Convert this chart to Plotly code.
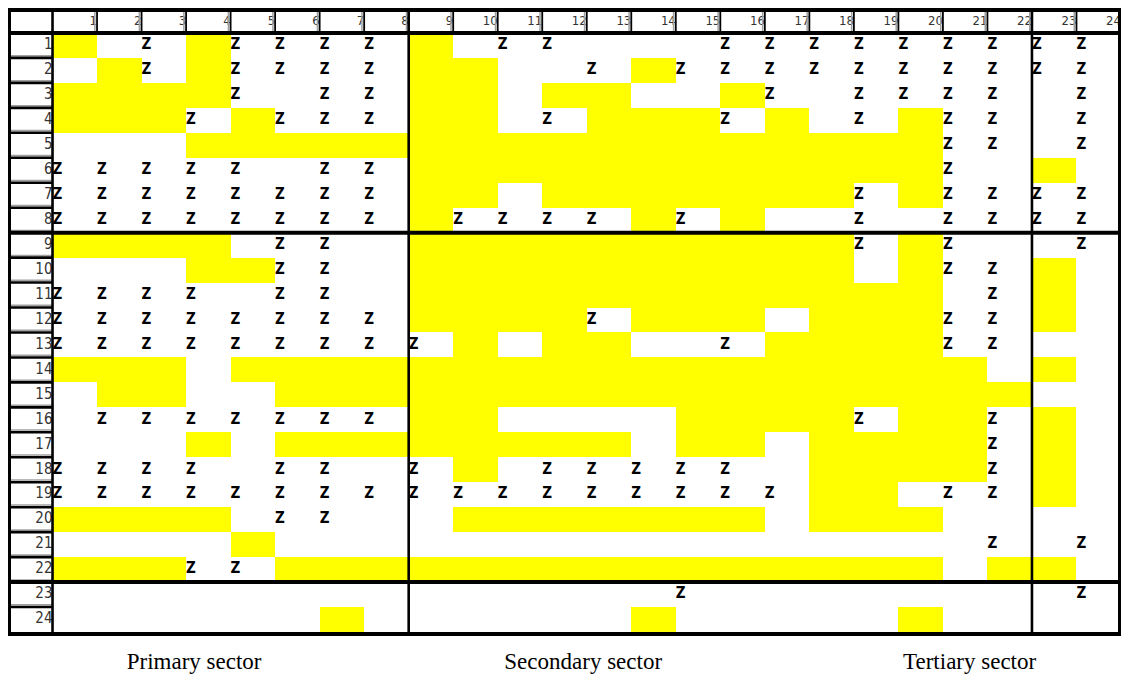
import numpy as np
import plotly.graph_objects as go

# ---------------- data ----------------
n_rows = 24
n_cols = 24
col_labels = [str(i) for i in range(1, n_cols + 1)]
row_labels = [str(i) for i in range(1, n_rows + 1)]

# yellow (shaded) cells: row -> list of columns
yellow_cells = {
    1: [1, 4, 9],
    2: [2, 4, 9, 10, 14],
    3: [1, 2, 3, 4, 9, 10, 12, 13, 16],
    4: [1, 2, 3, 5, 9, 10, 13, 14, 15, 17, 20],
    5: list(range(4, 21)),
    6: list(range(9, 21)) + [23],
    7: [9, 10, 12, 13, 14, 15, 16, 17, 18, 20],
    8: [9, 14, 16],
    9: [1, 2, 3, 4] + list(range(9, 19)) + [20],
    10: [4, 5] + list(range(9, 19)) + [20, 23],
    11: list(range(9, 21)) + [23],
    12: [9, 10, 11, 12, 14, 15, 16, 18, 19, 20, 23],
    13: [10, 12, 13, 17, 18, 19, 20],
    14: [1, 2, 3] + list(range(5, 22)) + [23],
    15: [2, 3] + list(range(6, 23)),
    16: [9, 10, 15, 16, 17, 18, 20, 21, 23],
    17: [4, 6, 7, 8, 9, 10, 11, 12, 13, 15, 16, 18, 19, 20, 21, 23],
    18: [10, 18, 19, 20, 21, 23],
    19: [18, 19, 23],
    20: [1, 2, 3, 4, 10, 11, 12, 13, 14, 15, 16, 18, 19, 20],
    21: [5],
    22: [1, 2, 3, 6, 7, 8] + list(range(9, 21)) + [22, 23],
    23: [],
    24: [7, 14, 20],
}

# "Z" marked cells: row -> list of columns
z_cells = {
    1: [3, 5, 6, 7, 8, 11, 12, 16, 17, 18, 19, 20, 21, 22, 23, 24],
    2: [3, 5, 6, 7, 8, 13, 15, 16, 17, 18, 19, 20, 21, 22, 23, 24],
    3: [5, 7, 8, 17, 19, 20, 21, 22, 24],
    4: [4, 6, 7, 8, 12, 16, 19, 21, 22, 24],
    5: [21, 22, 24],
    6: [1, 2, 3, 4, 5, 7, 8, 21],
    7: [1, 2, 3, 4, 5, 6, 7, 8, 19, 21, 22, 23, 24],
    8: [1, 2, 3, 4, 5, 6, 7, 8, 10, 11, 12, 13, 15, 19, 21, 22, 23, 24],
    9: [6, 7, 19, 21, 24],
    10: [6, 7, 21, 22],
    11: [1, 2, 3, 4, 6, 7, 22],
    12: [1, 2, 3, 4, 5, 6, 7, 8, 13, 21, 22],
    13: [1, 2, 3, 4, 5, 6, 7, 8, 9, 16, 21, 22],
    14: [],
    15: [],
    16: [2, 3, 4, 5, 6, 7, 8, 19, 22],
    17: [22],
    18: [1, 2, 3, 4, 6, 7, 9, 12, 13, 14, 15, 16, 22],
    19: [1, 2, 3, 4, 5, 6, 7, 8, 9, 10, 11, 12, 13, 14, 15, 16, 17, 21, 22],
    20: [6, 7],
    21: [22, 24],
    22: [4, 5],
    23: [15, 24],
    24: [],
}

sector_names = ["Primary sector", "Secondary sector", "Tertiary sector"]
sector_label_x = [3.68, 12.42, 21.1]
section_end_cols = [8, 22]
section_end_rows = [8, 22]

# ---------------- geometry (pixels, figure coords) ----------------
W, H = 1115, 679
GL, GR, GT, GB = 0, 1113, 0, 624
ux = (GR - GL) / (n_cols + 1)
uy = (GB - GT) / (n_rows + 1)
x_range = [-0.5 - GL / ux, n_cols + 0.5 + (W - GR) / ux]
y_range = [n_rows + 0.5 + (H - GB) / uy, -0.5 - GT / uy]

NARROW = "Liberation Sans Narrow, Arial Narrow, DejaVu Sans Condensed, Liberation Sans, Arial"

# ---------------- figure ----------------
zmat = np.zeros((n_rows, n_cols))
for r, cols in yellow_cells.items():
    for c in cols:
        zmat[r - 1, c - 1] = 1

fig = go.Figure()
fig.add_trace(go.Heatmap(
    z=zmat, x=list(range(1, n_cols + 1)), y=list(range(1, n_rows + 1)),
    colorscale=[[0, "#ffffff"], [1, "#ffff00"]], zmin=0, zmax=1,
    showscale=False, hoverinfo="skip",
))

zx, zy = [], []
for r, cols in z_cells.items():
    for c in cols:
        zx.append(c - 0.5)
        zy.append(r)
fig.add_trace(go.Scatter(
    x=zx, y=zy, mode="text", text=["Z"] * len(zx), textposition="middle right",
    textfont=dict(family=NARROW, size=15, color="black", weight="bold"),
    hoverinfo="skip", cliponaxis=False,
))

# column header numbers
fig.add_trace(go.Scatter(
    x=[i + 0.5 for i in range(1, n_cols + 1)], y=[0.05] * n_cols, mode="text",
    text=col_labels, textposition="middle left",
    textfont=dict(family=NARROW, size=13, color="#333333"),
    hoverinfo="skip", cliponaxis=False,
))
# row header numbers
fig.add_trace(go.Scatter(
    x=[0.5] * n_rows, y=list(range(1, n_rows + 1)), mode="text",
    text=row_labels, textposition="middle left",
    textfont=dict(family=NARROW, size=15, color="#333333"),
    hoverinfo="skip", cliponaxis=False,
))
# sector labels
fig.add_trace(go.Scatter(
    x=sector_label_x, y=[n_rows + 1.74] * 3, mode="text", text=sector_names,
    textposition="middle center",
    textfont=dict(family="Liberation Serif, Times New Roman, serif", size=23, color="black"),
    hoverinfo="skip", cliponaxis=False,
))

shapes = []
def line(x0, y0, x1, y1, w, color="black"):
    shapes.append(dict(type="line", xref="x", yref="y", x0=x0, y0=y0, x1=x1, y1=y1,
                       line=dict(color=color, width=w), layer="above"))

# header separators (with grey shadow)
gx = 2.2 / ux
gy = 2.2 / uy
for c in range(1, n_cols):
    line(c + 0.5 - gx, -0.5, c + 0.5 - gx, 0.5, 1.5, "#a0a0a0")
    line(c + 0.5, -0.5, c + 0.5, 0.5, 1.8)
for r in range(1, n_rows):
    line(-0.5, r + 0.5 - gy, 0.5, r + 0.5 - gy, 1.5, "#a0a0a0")
    line(-0.5, r + 0.5, 0.5, r + 0.5, 2.6)

# thick section lines
x_left = -0.5 + 1.5 / ux
x_right = n_cols + 0.5 - 1.5 / ux
y_top = -0.5 + 2.0 / uy
y_bottom = n_rows + 0.5 + 2.0 / uy
for yb in [y_top, 0.5] + [r + 0.5 for r in section_end_rows] + [y_bottom]:
    line(x_left - 1.5 / ux, yb, x_right + 1.5 / ux, yb, 4)
for xb in [x_left, 0.5] + [c + 0.5 for c in section_end_cols] + [x_right]:
    line(xb, y_top, xb, y_bottom, 3 if xb in (x_left, x_right) else 2.6)

fig.update_layout(
    width=W, height=H, margin=dict(l=0, r=0, t=0, b=0),
    paper_bgcolor="white", plot_bgcolor="white", showlegend=False,
    shapes=shapes,
    xaxis=dict(range=x_range, visible=False, fixedrange=True),
    yaxis=dict(range=y_range, visible=False, fixedrange=True),
)

fig.write_html("out.html")
